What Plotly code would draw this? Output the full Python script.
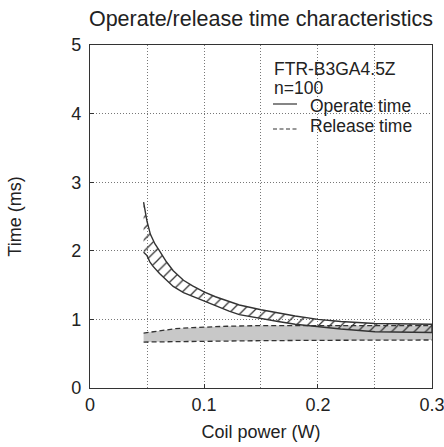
import plotly.graph_objects as go

# ---- data ----
op_up_x = [0.047, 0.05, 0.053, 0.057, 0.061, 0.067, 0.073, 0.082, 0.09, 0.1, 0.11, 0.122, 0.131, 0.15, 0.165, 0.18, 0.2, 0.22, 0.25, 0.28, 0.3]
op_up_y = [2.71, 2.43, 2.24, 2.10, 2.00, 1.84, 1.71, 1.57, 1.49, 1.40, 1.33, 1.26, 1.21, 1.14, 1.09, 1.05, 1.00, 0.97, 0.94, 0.93, 0.93]
op_lo_x = [0.047, 0.05, 0.0525, 0.055, 0.061, 0.067, 0.073, 0.082, 0.09, 0.1, 0.11, 0.122, 0.131, 0.15, 0.165, 0.18, 0.2, 0.22, 0.25, 0.28, 0.3]
op_lo_y = [1.98, 1.93, 1.84, 1.78, 1.67, 1.57, 1.48, 1.39, 1.33, 1.26, 1.20, 1.12, 1.07, 1.01, 0.97, 0.93, 0.89, 0.86, 0.82, 0.81, 0.81]

rel_up_x = [0.047, 0.055, 0.065, 0.075, 0.09, 0.1, 0.12, 0.15, 0.2, 0.25, 0.3]
rel_up_y = [0.80, 0.82, 0.845, 0.865, 0.88, 0.89, 0.90, 0.91, 0.91, 0.91, 0.91]
rel_lo_x = [0.047, 0.1, 0.15, 0.2, 0.25, 0.3]
rel_lo_y = [0.67, 0.685, 0.69, 0.695, 0.70, 0.70]

x_ticks = [0, 0.1, 0.2, 0.3]
x_labels = ["0", "0.1", "0.2", "0.3"]
y_ticks = [0, 1, 2, 3, 4, 5]

title_text = "Operate/release time characteristics"
model_text = "FTR-B3GA4.5Z"
count_text = "n=100"
series_names = ["Operate time", "Release time"]

FONT = "Liberation Sans, Arial, sans-serif"
DARK = "#333333"
TXT = "#222222"

# plot-area geometry (pixels) used to place the key
L, R, T, B = 90, 432, 45, 388
def px_x(p):
    return (p - L) / (R - L)
def px_y(p):
    return (B - p) / (B - T)

fig = go.Figure()

# release band (gray fill + dashed borders)
fig.add_trace(go.Scatter(
    x=rel_up_x + rel_lo_x[::-1], y=rel_up_y + rel_lo_y[::-1],
    fill="toself", fillcolor="#c8c8c8", mode="lines", line=dict(width=0),
    showlegend=False, hoverinfo="skip"))
fig.add_trace(go.Scatter(x=rel_up_x, y=rel_up_y, mode="lines",
    line=dict(color=DARK, width=1.3, dash="5px,3px"), showlegend=False, hoverinfo="skip"))
fig.add_trace(go.Scatter(x=rel_lo_x, y=rel_lo_y, mode="lines",
    line=dict(color=DARK, width=1.3, dash="5px,3px"), showlegend=False, hoverinfo="skip"))

# operate band (hatched fill + solid border)
fig.add_trace(go.Scatter(
    x=op_up_x + op_lo_x[::-1], y=op_up_y + op_lo_y[::-1],
    fill="toself", fillcolor="rgba(0,0,0,0)", mode="lines", line=dict(width=0),
    fillpattern=dict(shape="/", size=8, solidity=0.16, fgcolor=DARK,
                     bgcolor="rgba(0,0,0,0)", fillmode="replace"),
    showlegend=False, hoverinfo="skip"))
fig.add_trace(go.Scatter(
    x=op_up_x + op_lo_x[::-1], y=op_up_y + op_lo_y[::-1], mode="lines",
    line=dict(color=DARK, width=1.4), showlegend=False, hoverinfo="skip"))

axis_common = dict(
    showline=True, mirror=True, linecolor=DARK, linewidth=1.3,
    showgrid=True, gridcolor="#777777", gridwidth=1, griddash="1px,2px",
    zeroline=False, ticks="inside", ticklen=4, tickcolor=DARK,
    tickfont=dict(family=FONT, size=18, color=TXT),
    automargin=False, ticklabeloverflow="allow",
)

# key (model text, sample size, line samples)
key_font = dict(family=FONT, size=17.5, color=TXT)
annotations = [
    dict(text=model_text, x=px_x(272), y=px_y(68.5)),
    dict(text=count_text, x=px_x(272), y=px_y(88.5)),
    dict(text=series_names[0], x=px_x(308), y=px_y(106)),
    dict(text=series_names[1], x=px_x(308), y=px_y(126)),
]
for a in annotations:
    a.update(xref="paper", yref="paper", xanchor="left", yanchor="middle",
             showarrow=False, font=key_font)
shapes = [
    dict(type="line", xref="paper", yref="paper", x0=px_x(273), x1=px_x(297),
         y0=px_y(104), y1=px_y(104), line=dict(color=DARK, width=1.2)),
    dict(type="line", xref="paper", yref="paper", x0=px_x(273), x1=px_x(297),
         y0=px_y(129), y1=px_y(129), line=dict(color=DARK, width=1.2, dash="4px,2.5px")),
]

fig.update_layout(
    width=444, height=447,
    margin=dict(l=L, r=444 - R, t=T, b=447 - B),
    paper_bgcolor="white", plot_bgcolor="white",
    font=dict(family=FONT, color=TXT),
    showlegend=False,
    title=dict(text=title_text, x=0.5, xref="paper", xanchor="center",
               y=1 - 18 / 447, yref="container", yanchor="middle",
               font=dict(family=FONT, size=21.5, color=TXT)),
    xaxis=dict(range=[0, 0.30001], tickvals=x_ticks, ticktext=x_labels,
               minor=dict(dtick=0.05, showgrid=True, gridcolor="#777777",
                          griddash="1px,2px", gridwidth=1),
               title=dict(text="Coil power (W)", font=dict(family=FONT, size=18, color=TXT), standoff=11),
               **axis_common),
    yaxis=dict(range=[0, 5], tickvals=y_ticks, ticklabelstandoff=4,
               title=dict(text="Time (ms)", font=dict(family=FONT, size=18, color=TXT), standoff=44),
               **axis_common),
    annotations=annotations,
    shapes=shapes,
)

fig.write_html("out.html")
